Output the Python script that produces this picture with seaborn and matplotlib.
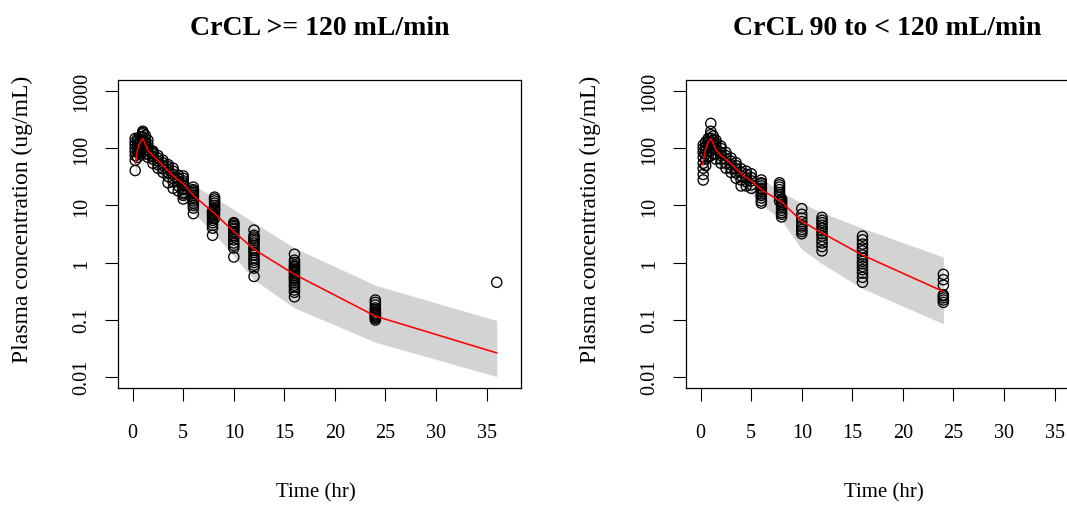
import numpy as np
import pandas as pd
import matplotlib
matplotlib.use("Agg")
import matplotlib.pyplot as plt
import seaborn as sns

# ---------------- data ----------------
titles = ["CrCL >= 120 mL/min", "CrCL 90 to < 120 mL/min"]

# observed concentrations, panel 1, by nominal time
obs1_times = [0.25, 0.5, 0.75, 1.0, 1.25, 1.5, 2.0, 2.5, 3.0, 3.5, 4.0, 4.5, 5.0,
              6.0, 7.9, 8.1, 10.0, 12.0, 16.0, 24.0, 36.0]
obs1_values = [
    [41, 62, 75, 88, 100, 115, 130, 150],
    [70, 85, 95, 105, 120, 140, 150],
    [80, 95, 110, 125, 140, 160],
    [85, 100, 120, 140, 160, 180, 200, 190],
    [80, 95, 110, 130, 150, 170],
    [70, 80, 95, 105, 120, 140],
    [55, 65, 72, 80, 90, 85],
    [45, 52, 60, 68, 75],
    [38, 44, 50, 56, 62],
    [25, 32, 38, 43, 48, 52],
    [20, 26, 30, 35, 40, 45],
    [18, 22, 26, 30, 34],
    [13, 15, 16, 17, 19, 20, 22, 23, 25, 27, 30, 33],
    [7.2, 9, 10, 11, 12, 13, 14, 15, 16, 17, 18, 19, 21],
    [3.0, 4.0, 4.5, 5.0, 5.5, 6.0, 6.5, 7.0, 7.5, 8.0],
    [6.0, 7.0, 8.0, 8.5, 9.0, 10, 11, 12, 13, 14],
    [1.25, 1.8, 2.0, 2.2, 2.5, 2.8, 3.0, 3.3, 3.5, 3.8, 4.0, 4.3, 4.5, 4.8, 5.0],
    [0.57, 0.8, 0.9, 1.0, 1.1, 1.2, 1.35, 1.5, 1.65, 1.8, 2.0, 2.2, 2.4, 2.6, 2.8, 3.0, 3.7],
    [0.25, 0.3, 0.33, 0.37, 0.4, 0.44, 0.48, 0.52, 0.55, 0.6, 0.65, 0.7, 0.75,
     0.8, 0.85, 0.9, 1.0, 1.1, 1.4],
    [0.098, 0.105, 0.11, 0.115, 0.12, 0.125, 0.13, 0.14, 0.15, 0.16, 0.18, 0.2, 0.22],
    [0.45],
]

# observed concentrations, panel 2, by nominal time
obs2_times = [0.25, 0.5, 0.75, 1.0, 1.25, 1.5, 2.0, 2.5, 3.0, 3.5, 4.0, 4.5, 5.0,
              6.0, 7.8, 8.0, 10.0, 12.0, 16.0, 24.0]
obs2_values = [
    [28, 35, 45, 55, 70, 85, 100, 115],
    [50, 65, 80, 95, 110, 130],
    [70, 90, 110, 130, 150],
    [75, 100, 125, 150, 175, 200, 275],
    [80, 100, 120, 140, 165],
    [65, 80, 95, 110, 125, 140],
    [55, 65, 75, 85, 100, 110],
    [45, 55, 65, 75, 85],
    [38, 45, 52, 60, 68],
    [30, 37, 44, 50, 56],
    [22, 28, 33, 38, 44],
    [22, 26, 30, 35, 40],
    [20, 23, 27, 31, 36],
    [11, 12, 13.5, 15, 16, 17.5, 19, 20, 22, 24, 25, 28],
    [12, 14, 15.5, 17, 19, 21, 23, 25],
    [6.3, 7, 7.5, 8.2, 9, 9.8, 10.5, 11.3, 12, 13],
    [3.2, 3.5, 3.8, 4.2, 4.5, 5.2, 6, 7, 8.8],
    [1.6, 1.9, 2.2, 2.5, 2.9, 3.2, 3.6, 4.0, 4.5, 5.0, 5.5, 6.2],
    [0.45, 0.55, 0.65, 0.75, 0.85, 0.95, 1.05, 1.2, 1.35, 1.6, 1.8, 2.1, 2.5, 2.9],
    [0.2, 0.22, 0.24, 0.26, 0.27, 0.4, 0.5, 0.62],
]

# predicted median and prediction interval
pred1_time = [0.25, 0.5, 0.75, 1.0, 1.5, 2.0, 3.0, 4.0, 5.0, 6.0, 8.0, 10.0, 12.0, 16.0, 24.0, 36.0]
pred1_med = [55, 100, 130, 150, 92, 75, 50, 33, 24, 15, 7.5, 3.5, 1.7, 0.62, 0.115, 0.026]
pred1_lo = [30, 60, 80, 95, 60, 45, 30, 20, 13, 7.5, 3.3, 1.3, 0.5, 0.16, 0.04, 0.01]
pred1_hi = [90, 160, 200, 230, 150, 115, 75, 48, 33, 23, 14, 8.5, 5.0, 1.8, 0.40, 0.096]

pred2_time = [0.17, 0.5, 0.75, 1.0, 1.5, 2.0, 3.0, 4.0, 5.0, 6.0, 8.0, 10.0, 12.0, 16.0, 24.0]
pred2_med = [51, 100, 130, 150, 95, 76, 54, 36, 27, 19, 11.5, 5.3, 3.3, 1.35, 0.31]
pred2_lo = [28, 60, 80, 95, 60, 45, 32, 22, 16, 10.5, 5.5, 1.7, 0.95, 0.35, 0.084]
pred2_hi = [90, 160, 200, 230, 150, 115, 80, 52, 40, 30, 17, 11, 7.5, 4.0, 1.25]

ytick_vals = [0.01, 0.1, 1, 10, 100, 1000]
ytick_labels = ["0.01", "0.1", "1", "10", "100", "1000"]
xtick_vals = [0, 5, 10, 15, 20, 25, 30, 35]

# ---------------- plotting ----------------
sns.set_theme(style="white")
plt.rcParams["font.family"] = ["Liberation Serif", "DejaVu Serif"]

W, H = 1067, 506
fig = plt.figure(figsize=(W / 100, H / 100), dpi=100)
ax_w, ax_h = 403, 308
axes = [fig.add_axes([118 / W, (H - 389) / H, ax_w / W, ax_h / H]),
        fig.add_axes([686 / W, (H - 389) / H, ax_w / W, ax_h / H])]

panels = [
    (obs1_times, obs1_values, pred1_time, pred1_med, pred1_lo, pred1_hi),
    (obs2_times, obs2_values, pred2_time, pred2_med, pred2_lo, pred2_hi),
]

for ax, title, (ot, ov, pt, pm, plo, phi) in zip(axes, titles, panels):
    obs = pd.DataFrame({
        "time": [t for t, vals in zip(ot, ov) for _ in vals],
        "conc": [v for vals in ov for v in vals],
    })
    pred = pd.DataFrame({"time": pt, "med": pm, "lo": plo, "hi": phi})

    ax.fill_between(pred["time"], pred["lo"], pred["hi"], color="#d3d3d3", lw=0, zorder=1)
    sns.scatterplot(data=obs, x="time", y="conc", ax=ax, marker="o", s=54,
                    facecolors="none", edgecolor="black", linewidth=0.95, zorder=2)
    sns.lineplot(data=pred, x="time", y="med", ax=ax, color="red", lw=1.15,
                 zorder=3, estimator=None)

    ax.set_yscale("log")
    ax.set_xlim(-1.45, 38.4)
    ax.set_ylim(10 ** -2.2, 10 ** 3.2)
    ax.set_xticks(xtick_vals)
    ax.set_xticklabels([str(v) for v in xtick_vals])
    ax.set_yticks(ytick_vals)
    ax.set_yticklabels(ytick_labels, rotation=90, va="center")
    ax.yaxis.set_minor_locator(matplotlib.ticker.NullLocator())
    ax.tick_params(axis="both", direction="out", length=9.5, width=0.8,
                   colors="black", labelsize=14.5, left=True, bottom=True)
    ax.tick_params(axis="x", pad=16)
    ax.tick_params(axis="y", pad=10)
    for sp in ax.spines.values():
        sp.set_color("black")
        sp.set_linewidth(0.9)
        sp.set_visible(True)

    ax.set_xlabel("Time (hr)", fontsize=15, color="black")
    ax.xaxis.set_label_coords(0.49, -0.305)
    ax.set_ylabel("Plasma concentration (ug/mL)", fontsize=17, color="black")
    ax.yaxis.set_label_coords(-0.212, 0.552)
    ax.set_title(title, fontsize=20, fontweight="bold", pad=33, color="black")
    ax.grid(False)

fig.savefig("out.png", dpi=100)
